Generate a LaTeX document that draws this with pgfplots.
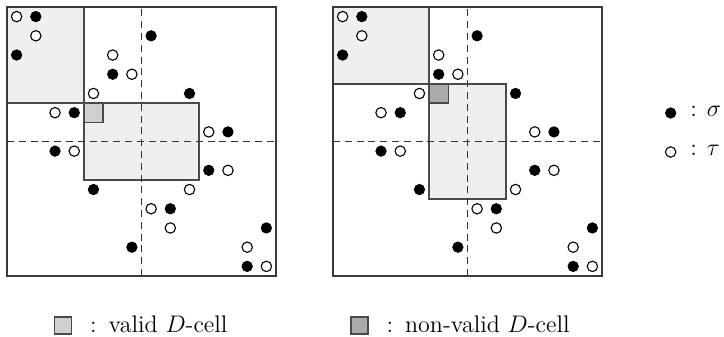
\documentclass[border=0pt]{standalone}
\usepackage{pgfplots}
\pgfplotsset{compat=1.18}
\definecolor{cellfill}{HTML}{EFEFEF}
\definecolor{validfill}{HTML}{D0D0D0}
\definecolor{nonvalidfill}{HTML}{ABABAB}
\definecolor{edgecol}{HTML}{4A4A4A}
\definecolor{framecol}{HTML}{3A3A3A}

\pgfplotstableread{
x y
1.5 13.5
0.5 11.5
7.5 12.5
5.5 10.5
9.5 9.5
3.5 8.5
11.5 7.5
2.5 6.5
10.5 5.5
4.5 4.5
8.5 3.5
13.5 2.5
6.5 1.5
12.5 0.5
}\sigmadata
\pgfplotstableread{
x y
0.5 13.5
1.5 12.5
5.5 11.5
6.5 10.5
4.5 9.5
2.5 8.5
10.5 7.5
3.5 6.5
11.5 5.5
9.5 4.5
7.5 3.5
8.5 2.5
12.5 1.5
13.5 0.5
}\taudata

\pgfplotsset{
  panel/.style={
    scale only axis, width=134.5pt, height=134.5pt,
    xmin=0, xmax=14, ymin=0, ymax=14,
    xtick=\empty, ytick=\empty,
    axis line style={framecol, line width=0.85pt},
    axis on top,
  },
  rect/.style={fill=cellfill, draw=edgecol, line width=0.7pt, forget plot},
  dashedline/.style={black!80, line width=0.6pt, dash pattern=on 3.5pt off 2.4pt, forget plot},
  sigmastyle/.style={only marks, mark=*, mark size=2.6pt, mark options={fill=black, draw=black, line width=0.4pt}},
  taustyle/.style={only marks, mark=*, mark size=2.6pt, mark options={fill=white, draw=black, line width=0.55pt}},
  squarelegend/.style={legend image code/.code={\draw[##1] (0pt,-4.25pt) rectangle (8.5pt,4.25pt);}},
  markleg/.style={legend image code/.code={\draw[##1] plot coordinates {(0pt,0pt)};}},
}

\begin{document}
\begin{tikzpicture}
\path[use as bounding box] (0pt,0pt) rectangle (362pt,-168.5pt);

% Left panel
\begin{axis}[panel, at={(3.5pt,-3.5pt)}, anchor=north west,
  legend columns=2,
  legend style={at={(0.1747,-0.184)}, anchor=west, draw=none, fill=none,
    inner sep=0pt, outer sep=0pt,
    nodes={inner sep=0pt, font=\large},
    /tikz/every odd column/.style={column sep=9pt},
    /tikz/every even column/.style={column sep=61.5pt}},
  legend cell align=left]
\addplot[rect] coordinates {(0,9) (4,9) (4,14) (0,14)} -- cycle;
\addplot[rect] coordinates {(4,5) (10,5) (10,9) (4,9)} -- cycle;
\addplot[rect, fill=validfill] coordinates {(4,8) (5,8) (5,9) (4,9)} -- cycle;
\addplot[dashedline] coordinates {(7,0) (7,14)};
\addplot[dashedline] coordinates {(0,7) (14,7)};
\addplot[sigmastyle, forget plot] table {\sigmadata};
\addplot[taustyle, forget plot] table {\taudata};
\addlegendimage{fill=validfill, draw=edgecol, line width=0.6pt, squarelegend}
\addlegendentry{:\hspace{6pt}valid $D$-cell}
\addlegendimage{fill=nonvalidfill, draw=edgecol, line width=0.6pt, squarelegend}
\addlegendentry{:\hspace{6pt}non-valid $D$-cell}
\end{axis}

% Right panel
\begin{axis}[panel, at={(166.5pt,-3.5pt)}, anchor=north west,
  legend style={at={(1.236,0.6357)}, anchor=north west, draw=none, fill=none,
    inner sep=0pt, outer sep=0pt, row sep=11.5pt,
    nodes={inner sep=0pt, text height=6pt, text depth=2pt, font=\large},
    /tikz/every odd column/.style={column sep=7.25pt}},
  legend cell align=left]
\addplot[rect] coordinates {(0,10) (5,10) (5,14) (0,14)} -- cycle;
\addplot[rect] coordinates {(5,4) (9,4) (9,10) (5,10)} -- cycle;
\addplot[rect, fill=nonvalidfill] coordinates {(5,9) (6,9) (6,10) (5,10)} -- cycle;
\addplot[dashedline] coordinates {(7,0) (7,14)};
\addplot[dashedline] coordinates {(0,7) (14,7)};
\addplot[sigmastyle, forget plot] table {\sigmadata};
\addplot[taustyle, forget plot] table {\taudata};
\addlegendimage{sigmastyle, markleg}
\addlegendentry{:\hspace{5pt}$\sigma$}
\addlegendimage{taustyle, markleg}
\addlegendentry{:\hspace{5pt}$\tau$}
\end{axis}
\end{tikzpicture}
\end{document}
